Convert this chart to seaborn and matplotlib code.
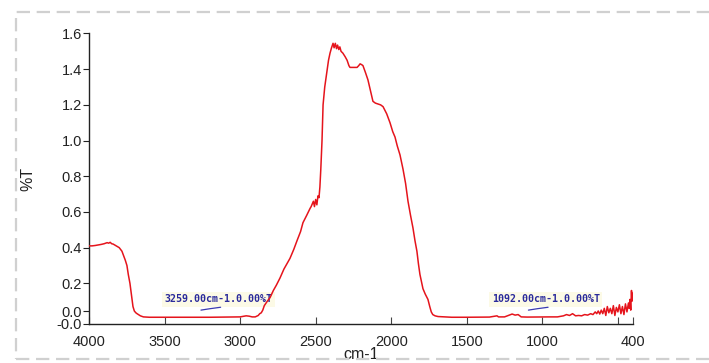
import matplotlib
matplotlib.use("Agg")
import matplotlib.pyplot as plt
from matplotlib.patches import Rectangle
import numpy as np
import pandas as pd
import seaborn as sns

# IR spectrum: wavenumber (cm-1) and transmittance (%T)
wavenumber = [
    4000, 3980, 3960, 3940, 3920, 3900, 3880, 3870, 3860, 3850, 3840, 3820,
    3800, 3782, 3760, 3749, 3740, 3729, 3720, 3709, 3700, 3690, 3682, 3660,
    3640, 3600, 3500, 3400, 3300, 3200, 3100, 3000, 2960, 2940, 2920, 2900,
    2880, 2870, 2860, 2850, 2840, 2820, 2802, 2780, 2760, 2736, 2710, 2690,
    2670, 2645, 2623, 2600, 2584, 2560, 2537, 2530, 2515, 2508, 2500, 2492,
    2485, 2478, 2472, 2466, 2458, 2451, 2440, 2425, 2415, 2405, 2395, 2385,
    2378, 2370, 2362, 2355, 2347, 2340, 2332, 2320, 2305, 2292, 2280, 2273,
    2250, 2226, 2215, 2206, 2195, 2187, 2170, 2154, 2140, 2121, 2105, 2087,
    2070, 2054, 2030, 2008, 1990, 1975, 1960, 1942, 1922, 1905, 1889, 1872,
    1856, 1843, 1830, 1820, 1810, 1800, 1790, 1775, 1757, 1745, 1735, 1725,
    1710, 1690, 1650, 1600, 1500, 1400, 1350, 1300, 1290, 1250, 1220, 1200,
    1180, 1160, 1140, 1100, 1000, 950, 900, 860, 840, 820, 800, 780,
    760, 740, 720, 700, 680, 665, 650, 640, 630, 620, 610, 600,
    590, 580, 570, 560, 550, 540, 530, 520, 510, 500, 490, 480,
    470, 460, 450, 440, 430, 425, 420, 415, 410, 407, 405,
]
transmittance = [
    0.410, 0.410, 0.412, 0.415, 0.418, 0.422, 0.428, 0.425, 0.430, 0.422, 0.420, 0.410,
    0.400, 0.380, 0.330, 0.300, 0.250, 0.200, 0.140, 0.070, 0.045, 0.035, 0.030, 0.018,
    0.012, 0.010, 0.010, 0.010, 0.010, 0.010, 0.011, 0.012, 0.018, 0.016, 0.012, 0.012,
    0.020, 0.030, 0.035, 0.050, 0.075, 0.100, 0.120, 0.160, 0.190, 0.230, 0.280, 0.310,
    0.340, 0.390, 0.440, 0.490, 0.540, 0.580, 0.620, 0.630, 0.660, 0.630, 0.670, 0.640,
    0.690, 0.680, 0.740, 0.840, 1.000, 1.200, 1.300, 1.390, 1.450, 1.490, 1.520, 1.545,
    1.520, 1.545, 1.515, 1.535, 1.510, 1.525, 1.500, 1.490, 1.470, 1.450, 1.420, 1.410,
    1.410, 1.410, 1.420, 1.430, 1.425, 1.420, 1.380, 1.340, 1.290, 1.220, 1.210, 1.205,
    1.200, 1.190, 1.150, 1.100, 1.050, 1.020, 0.970, 0.920, 0.840, 0.760, 0.660, 0.580,
    0.510, 0.440, 0.380, 0.310, 0.250, 0.210, 0.170, 0.140, 0.110, 0.070, 0.040, 0.025,
    0.018, 0.014, 0.012, 0.010, 0.010, 0.011, 0.011, 0.018, 0.012, 0.012, 0.022, 0.028,
    0.022, 0.025, 0.012, 0.011, 0.012, 0.012, 0.012, 0.018, 0.025, 0.020, 0.030, 0.018,
    0.020, 0.018, 0.025, 0.022, 0.030, 0.025, 0.040, 0.030, 0.045, 0.028, 0.050, 0.030,
    0.060, 0.020, 0.070, 0.035, 0.060, 0.030, 0.075, 0.020, 0.065, 0.040, 0.080, 0.030,
    0.070, 0.025, 0.085, 0.040, 0.090, 0.060, 0.110, 0.050, 0.160, 0.100, 0.145,
]

# Peak labels
peak_positions = [3259.00, 1092.00]
peak_values = [0.00, 0.00]

# Axis ticks
x_ticks = [4000, 3500, 3000, 2500, 2000, 1500, 1000, 500, 400]
x_tick_labels = ["4000", "3500", "3000", "2500", "2000", "1500", "1000", "", "400"]
y_ticks = [-0.025, 0.045, 0.2, 0.4, 0.6, 0.8, 1.0, 1.2, 1.4, 1.6]
y_tick_labels = ["-0.0", "0.0", "0.2", "0.4", "0.6", "0.8", "1.0", "1.2", "1.4", "1.6"]

sns.set_style("white")
plt.rcParams["font.family"] = ["Liberation Sans", "DejaVu Sans"]

W, H = 709, 363
fig = plt.figure(figsize=(W / 100, H / 100), dpi=100)
fig.patch.set_facecolor("white")

# dashed frame around the chart area
frame = Rectangle((16 / W, 4 / H), 720 / W, (351 - 4) / H, transform=fig.transFigure,
                  fill=False, edgecolor="#d0d0d0", linewidth=1.6,
                  linestyle=(0, (6, 3)), clip_on=False)
fig.patches.append(frame)

left, right, top, bottom = 89, 633, 33.5, 323.5
ax = fig.add_axes([left / W, (H - bottom) / H, (right - left) / W, (bottom - top) / H])
ax.set_facecolor("none")

df = pd.DataFrame({"wavenumber": wavenumber, "T": transmittance})
sns.lineplot(data=df, x="wavenumber", y="T", ax=ax, color="#e5141c",
             linewidth=1.1, estimator=None, sort=False, zorder=3)

ax.set_xlim(4000, 400)
ax.set_ylim(-0.025, 1.6)
ax.set_xticks(x_ticks)
ax.set_xticklabels(x_tick_labels)
ax.set_yticks(y_ticks)
ax.set_yticklabels(y_tick_labels)

for side in ("top", "right"):
    ax.spines[side].set_visible(False)
for side in ("left", "bottom"):
    ax.spines[side].set_color("#222222")
    ax.spines[side].set_linewidth(1.0)

ax.tick_params(axis="x", direction="in", length=5, width=0.8, color="#444444",
               labelsize=10.5, pad=8, labelcolor="#222222")
ax.tick_params(axis="y", direction="out", length=4, width=0.8, color="#222222",
               labelsize=10.5, pad=1, labelcolor="#222222")
ax.xaxis.set_ticks_position("bottom")
ax.yaxis.set_ticks_position("left")

ax.set_xlabel("cm-1", fontsize=11.5, color="#222222", labelpad=-1)
ax.set_ylabel("%T", fontsize=11.5, color="#222222", labelpad=15)

# peak annotations with short leader lines
for pos, val in zip(peak_positions, peak_values):
    label = f"{pos:.2f}cm-1.{val:.2f}%T"
    ax.text(pos - 115, 0.112, label, ha="center", va="center",
            fontsize=7.2, family="DejaVu Sans Mono", fontweight="bold",
            color="#2b2b9c", zorder=1,
            bbox=dict(boxstyle="square,pad=0.25", facecolor="#fcfae6",
                      edgecolor="none"))
    ax.plot([pos, pos - 60, pos - 130], [0.050, 0.058, 0.066],
            color="#3a3ab0", linewidth=0.9, zorder=2)

fig.savefig("out.png", dpi=100, facecolor="white")
